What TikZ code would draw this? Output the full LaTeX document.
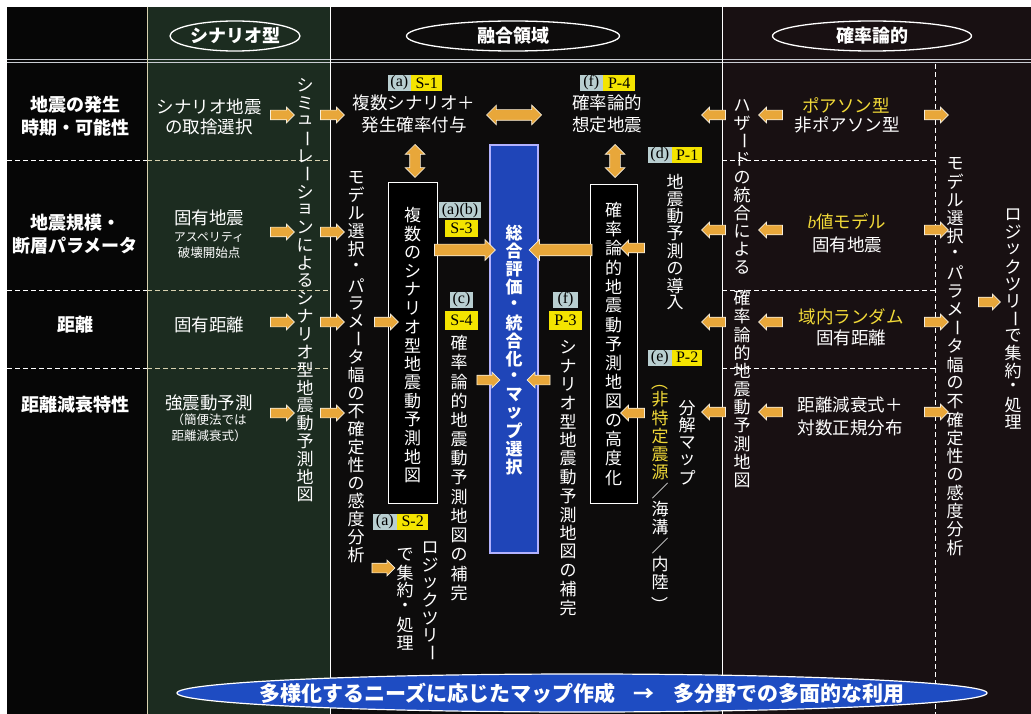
\documentclass[tikz,border=0pt]{standalone}
\usepackage{fontspec}
\usepackage{graphicx}
\setmainfont{Noto Sans CJK JP}
\newfontfamily\serif{Liberation Serif}
\usetikzlibrary{shapes.arrows,shapes.geometric}
\definecolor{leftbg}{HTML}{060606}
\definecolor{greenbg}{HTML}{1C2C20}
\definecolor{midbg}{HTML}{0D0C0C}
\definecolor{rightbg}{HTML}{181012}
\definecolor{labgray}{HTML}{B8CED0}
\definecolor{labyel}{HTML}{F4E400}
\definecolor{arrfill}{HTML}{E8A73A}
\definecolor{arrline}{HTML}{F6EEDC}
\definecolor{yeltxt}{HTML}{F2DA38}
\definecolor{bluebox}{HTML}{1F45B8}
\definecolor{blueell}{HTML}{1E4CC2}
\definecolor{gridline}{HTML}{D8D2B0}
\definecolor{hdline}{HTML}{C9CCD2}
\newcommand\fs[1]{\fontsize{#1}{#1}\selectfont}
\newcommand\rv[1]{\rotatebox[origin=c]{-90}{#1}}
\makeatletter
\newcommand\vtext[2][18pt]{\vbox{\offinterlineskip\@tfor\vt@c:=#2\do{\vbox to #1{\vss\hbox to 1em{\hss\vt@c\hss}\vss}}}}
\makeatother
\tikzset{
  every node/.style={inner sep=0pt, text=white},
  tx/.style={font=\fs{17.5}},
  txs/.style={font=\fs{12.5}},
  hb/.style={font=\fs{18}\bfseries},
  vt/.style={anchor=north, font=\fs{17}},
  arrbase/.style={draw=arrline, fill=arrfill, line width=0.7pt, inner xsep=0pt},
  ra/.style={arrbase, single arrow, minimum height=24pt, minimum width=15pt, inner ysep=4.5pt, single arrow head extend=3pt},
  la/.style={ra, rotate=180},
  bigra/.style={ra, minimum height=61pt, minimum width=20pt, inner ysep=5.5pt, single arrow head extend=4.5pt},
  da/.style={arrbase, double arrow, minimum height=#1, minimum width=19pt, inner ysep=5pt, double arrow head extend=4.5pt},
  hdell/.style={ellipse, draw=white, line width=1.3pt, font=\fs{18}\bfseries},
  labg/.style={fill=labgray, text=black, font=\serif\fs{16}, minimum height=16pt, inner xsep=2.5pt},
  laby/.style={fill=labyel, text=black, font=\serif\fs{16}, minimum height=16pt, inner xsep=3pt},
  wbox/.style={draw=white, line width=1pt, fill=black},
  dashw/.style={white, line width=0.8pt, dash pattern=on 5pt off 3pt},
  dashy/.style={gridline, line width=0.8pt, dash pattern=on 5pt off 3pt}
}
\begin{document}
\begin{tikzpicture}[x=1pt,y=-1pt]
\useasboundingbox (0,0) rectangle (1031,714);
\fill[white] (0,0) rectangle (1031,714);
\fill[leftbg] (7,7) rectangle (147,714);
\fill[greenbg] (147,7) rectangle (330,714);
\fill[midbg] (330,7) rectangle (722,714);
\fill[rightbg] (722,7) rectangle (1031,714);
% grid
\draw[hdline, line width=1.2pt] (7,59.5) -- (1031,59.5);
\draw[hdline, line width=1.2pt] (7,62.8) -- (1031,62.8);
\draw[gridline, line width=0.9pt] (147,7) -- (147,714);
\draw[white, line width=1pt] (330,7) -- (330,714);
\draw[white, line width=0.9pt] (722,7) -- (722,714);
\draw[dashw] (935,64) -- (935,714);
\foreach \yy in {160,290,368}{
  \draw[dashw] (7,\yy) -- (147,\yy);
  \draw[dashy] (147,\yy) -- (330,\yy);
  \draw[dashw] (722,\yy) -- (935,\yy);
}
% headers
\node[hdell, minimum width=130pt, minimum height=30pt] (h1) at (235,36) {シナリオ型};
\node[hdell, minimum width=213pt, minimum height=30pt] (h2) at (513,36) {融合領域};
\node[hdell, minimum width=199pt, minimum height=30pt] (h3) at (872,36) {確率論的};
% left column
\node[hb] (l1a) at (75,105) {地震の発生};
\node[hb] (l1b) at (75,128) {時期・可能性};
\node[hb] (l2a) at (75,223) {地震規模・};
\node[hb] (l2b) at (75,246) {断層パラメータ};
\node[hb] (l3) at (75,325) {距離};
\node[hb] (l4) at (75,405) {距離減衰特性};
% scenario column
\node[tx] (s1a) at (209,107) {シナリオ地震};
\node[tx] (s1b) at (209,127) {の取捨選択};
\node[tx] (s2a) at (209,218) {固有地震};
\node[txs, font=\fs{12}\itshape] (s2b) at (209,237) {アスペリティ};
\node[txs] (s2c) at (209,253) {破壊開始点};
\node[tx] (s3) at (209,325) {固有距離};
\node[tx] (s4a) at (209,403) {強震動予測};
\node[txs] (s4b) at (209,420) {（簡便法では};
\node[txs] (s4c) at (209,436) {距離減衰式）};
\foreach \yy/\nm in {115/a,232/b,322/c,413/d}{
  \node[ra] (sa\nm) at (280,\yy) {};
  \node[ra] (sb\nm) at (330,\yy) {};
}
\node[vt] (vsim) at (305,76) {\vtext[17.8pt]{シミュ{\rv{ー}}レ{\rv{ー}}ションによるシナリオ型地震動予測地図}};
\node[vt] (vmod1) at (356,168) {\vtext[18pt]{モデル選択・パラメ{\rv{ー}}タ幅の不確定性の感度分析}};
% fusion column
\node[labg, anchor=east, minimum width=23pt] (lS1a) at (411,83) {(a)};
\node[laby, anchor=west, minimum width=31pt] (lS1b) at (411,83) {S-1};
\node[tx] (f1a) at (414,103) {複数シナリオ＋};
\node[tx] (f1b) at (414,125) {発生確率付与};
\node[labg, anchor=east, minimum width=23pt] (lP4a) at (603,83) {(f)};
\node[laby, anchor=west, minimum width=32pt] (lP4b) at (603,83) {P-4};
\node[tx] (f2a) at (607,103) {確率論的};
\node[tx] (f2b) at (607,125) {想定地震};
\node[da=55pt] (dah) at (514,115) {};
\node[da=33pt, rotate=90] (dav1) at (415,161) {};
\node[da=33pt, rotate=90] (dav2) at (615,161) {};
\node[wbox, minimum width=49pt, minimum height=320pt] (boxL) at (412.5,343) {};
\node[wbox, minimum width=47pt, minimum height=318pt] (boxR) at (613.5,344) {};
\node[draw=white!70!blue, line width=2pt, fill=bluebox, minimum width=48pt, minimum height=408pt] (blue) at (514,349) {};
\node[vt] (vbl) at (412.5,205.7) {\vtext[18.6pt]{複数のシナリオ型地震動予測地図}};
\node[vt] (vbr) at (613.5,200.5) {\vtext[19.1pt]{確率論的地震動予測地図の高度化}};
\node[vt, font=\fs{17}\bfseries] (vblue) at (514,224) {\vtext[18pt]{総合評価・統合化・マップ選択}};
\node[labg, minimum width=38pt] (lS3a) at (460,210.5) {(a)(b)};
\node[laby, minimum width=33pt, minimum height=17pt] (lS3b) at (461.5,228.5) {S-3};
\node[bigra] (aL) at (462,250) {};
\node[bigra, rotate=180, minimum height=63pt] (aR) at (563.5,250) {};
\node[ra] (aBL) at (384,322) {};
\node[ra, minimum height=23pt] (aSL) at (486,380) {};
\node[la, minimum height=23pt] (aSR) at (541,380) {};
\node[la] (aRB1) at (635,248) {};
\node[la] (aRB2) at (635,413) {};
\node[labg, minimum width=23pt] (lS4a) at (461.5,300) {(c)};
\node[laby, minimum width=33pt, minimum height=19pt] (lS4b) at (461.5,320) {S-4};
\node[vt] (vc) at (459,333.4) {\vtext[19.2pt]{確率論的地震動予測地図の補完}};
\node[labg, minimum width=25pt] (lP3a) at (565.5,300) {(f)};
\node[laby, minimum width=33pt, minimum height=19pt] (lP3b) at (565.5,320) {P-3};
\node[vt] (vf) at (568,337.7) {\vtext[18.6pt]{シナリオ型地震動予測地図の補完}};
\node[labg, anchor=east, minimum width=24pt] (lS2a) at (397,521.5) {(a)};
\node[laby, anchor=west, minimum width=31pt] (lS2b) at (397,521.5) {S-2};
\node[ra, minimum height=23pt] (aS2) at (381,568) {};
\node[vt] (vlog1) at (430,539) {\vtext[17.5pt]{ロジックツリ{\rv{ー}}}};
\node[vt] (vshu1) at (405,546) {\vtext[17.6pt]{で集約・処理}};
\node[labg, anchor=east, minimum width=24pt] (lP1a) at (672,155) {(d)};
\node[laby, anchor=west, minimum width=30pt] (lP1b) at (672,155) {P-1};
\node[vt] (vd) at (675,173) {\vtext[17.3pt]{地震動予測の導入}};
\node[labg, anchor=east, minimum width=24pt] (lP2a) at (672,357.5) {(e)};
\node[laby, anchor=west, minimum width=30pt] (lP2b) at (672,357.5) {P-2};
\node[font=\fs{17}, text=yeltxt] (vpo) at (660,382) {\rv{（}};
\node[vt] (ve1) at (660,390) {\vtext[18.3pt]{{\color{yeltxt}非}{\color{yeltxt}特}{\color{yeltxt}定}{\color{yeltxt}震}{\color{yeltxt}源}／海溝／内陸}};
\node[font=\fs{17}] (vpc) at (660,605) {\rv{）}};
\node[vt] (ve2) at (687,399) {\vtext[17.5pt]{分解マップ}};
% probabilistic column
\node[vt] (vhz1) at (742,96) {\vtext[18pt]{ハザ{\rv{ー}}ドの統合による}};
\node[vt] (vhz2) at (742,289) {\vtext[18.2pt]{確率論的地震動予測地図}};
\node[tx, text=yeltxt] (p1a) at (846,105) {ポアソン型};
\node[tx] (p1b) at (847,125) {非ポアソン型};
\node[tx, text=yeltxt] (p2a) at (847,222) {{\serif\itshape b}値モデル};
\node[tx] (p2b) at (847,245) {固有地震};
\node[tx, text=yeltxt] (p3a) at (851,317) {域内ランダム};
\node[tx] (p3b) at (851,338) {固有距離};
\node[tx] (p4a) at (850,405) {距離減衰式＋};
\node[tx] (p4b) at (850,428) {対数正規分布};
\foreach \yy/\nm in {115/a,230/b,322/c,412/d}{
  \node[la] (pa\nm) at (716,\yy) {};
  \node[la] (pb\nm) at (773,\yy) {};
  \node[ra] (pc\nm) at (934,\yy) {};
}
\node[vt] (vmod2) at (955,154) {\vtext[18.3pt]{モデル選択・パラメ{\rv{ー}}タ幅の不確定性の感度分析}};
\node[ra, minimum height=22pt] (aLT) at (987,302) {};
\node[vt] (vlog2) at (1013,206) {\vtext[17.3pt]{ロジックツリ{\rv{ー}}で集約・処理}};
% bottom ellipse
\node[ellipse, fill=blueell, draw=white, line width=1.2pt, minimum width=810pt, minimum height=38pt] (bell) at (582,693) {};
\node[font=\fs{21}\bfseries] (btxt) at (bell.center) {多様化するニーズに応じたマップ作成\hspace{0.9em}→\hspace{0.9em}多分野での多面的な利用};
\end{tikzpicture}
\end{document}
